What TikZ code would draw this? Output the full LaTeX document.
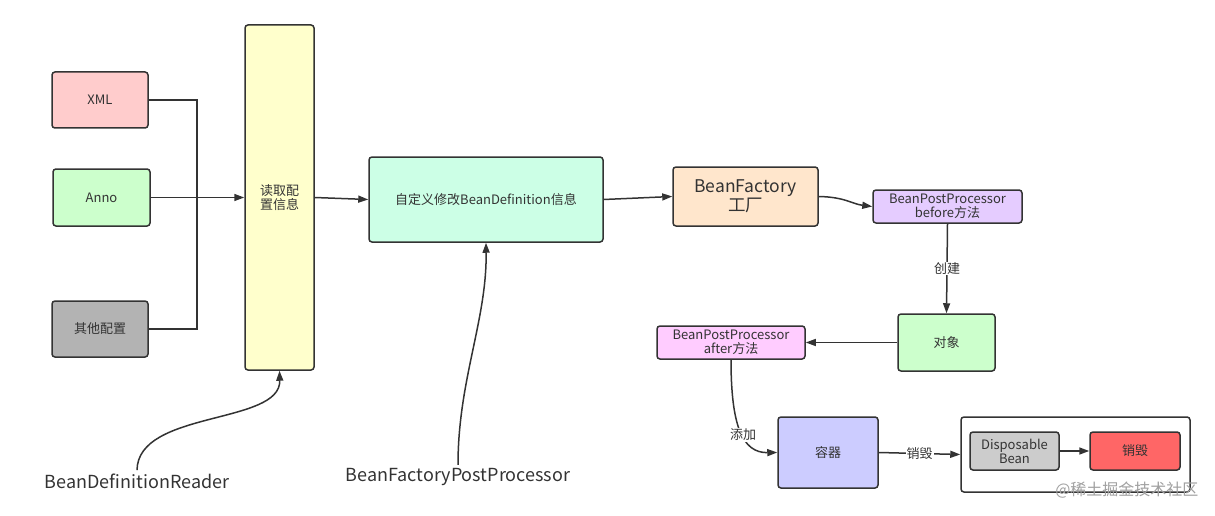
\documentclass[tikz,border=0pt]{standalone}
\usepackage{fontspec}
\setmainfont{Noto Sans CJK SC}
\usetikzlibrary{arrows.meta}
\definecolor{ink}{HTML}{333333}
\tikzset{>={Triangle[length=10pt,width=7pt]}}
\tikzset{
    box/.style = {draw=ink, line width=1.5pt, rounded corners=3pt, text=ink,
                  align=center, inner sep=0pt, font=\fontsize{13}{14}\selectfont},
    link/.style = {draw=ink, line width=1.5pt},
    tag/.style = {fill=white, inner sep=1pt, text=ink, font=\fontsize{13}{14}\selectfont},
    free/.style = {text=ink, font=\fontsize{18}{20}\selectfont}
}

\begin{document}
\begin{tikzpicture}[x=1pt, y=-1pt]
    \useasboundingbox (0,0) rectangle (1215,516);
    \node[box, fill={rgb,255:red,255;green,204;blue,204}, minimum width=96, minimum height=56] (xml) at (100,100) {XML};
    \node[box, fill={rgb,255:red,204;green,255;blue,204}, minimum width=97, minimum height=57] (anno) at (101.5,197.5) {Anno};
    \node[box, fill={rgb,255:red,179;green,179;blue,179}, minimum width=96, minimum height=56] (other) at (100,329) {其他配置};
    \node[box, fill={rgb,255:red,255;green,255;blue,204}, minimum width=69, minimum height=345] (read) at (279.5,197.5) {读取配\\置信息};
    \node[box, fill={rgb,255:red,204;green,255;blue,230}, minimum width=234, minimum height=85] (custom) at (486,199.5) {自定义修改BeanDefinition信息};
    \node[box, fill={rgb,255:red,255;green,230;blue,204}, minimum width=145, minimum height=59,
          font=\fontsize{17.5}{19}\selectfont] (factory) at (745.5,196.5) {BeanFactory\\工厂};
    \node[box, fill={rgb,255:red,229;green,204;blue,255}, minimum width=149, minimum height=33] (before) at (947.5,206.5) {BeanPostProcessor\\before方法};
    \node[box, fill={rgb,255:red,204;green,255;blue,204}, minimum width=97, minimum height=57] (obj) at (946.5,342.5) {对象};
    \node[box, fill={rgb,255:red,255;green,204;blue,255}, minimum width=148, minimum height=33] (after) at (731,342.5) {BeanPostProcessor\\after方法};
    \node[box, fill={rgb,255:red,204;green,204;blue,255}, minimum width=100, minimum height=71] (cont) at (828,452.5) {容器};
    \node[box, fill=white, minimum width=229, minimum height=75] (outer) at (1075.5,454.5) {};
    \node[box, fill={rgb,255:red,204;green,204;blue,204}, minimum width=89, minimum height=38] (disp) at (1014.5,451) {Disposable\\Bean};
    \node[box, fill={rgb,255:red,255;green,102;blue,102}, minimum width=90, minimum height=38] (destroy) at (1135,451) {销毁};
    \node[free] (reader) at (137,481) {BeanDefinitionReader};
    \node[free] (fpp) at (458,477) {BeanFactoryPostProcessor};
    \coordinate (joint) at (197,197);

    \draw[link] (xml.east) -| (joint);
    \draw[link] (other.east) -| (joint);
    \draw[link, ->] (anno.east) -- (read.west);
    \draw[link, ->] (read.east) -- (custom.west);
    \draw[link, ->] (custom.east) -- (factory.west);
    \draw[link, ->] (factory.east) .. controls (845,197) and (852,204) .. (before.west);
    \draw[link, ->] (before.south) -- node[tag] {创建} (obj.north);
    \draw[link, ->] (obj.west) -- (after.east);
    \draw[link, ->] (after.south) .. controls (731,425) and (742,453) .. node[tag, pos=0.55] {添加} (cont.west);
    \draw[link, ->] (cont.east) -- node[tag] {销毁} (outer.west);
    \draw[link, ->] (disp.east) -- (destroy.west);
    \draw[link, ->] (reader.north) .. controls (138,410) and (281,425) .. (read.south);
    \draw[link, ->] (fpp.north) .. controls (458,380) and (487,320) .. (custom.south);

    \node[text={rgb,255:red,160;green,160;blue,160}, font=\fontsize{16}{18}\selectfont, anchor=east] (mark) at (1202,490) {@稀土掘金技术社区};
\end{tikzpicture}
\end{document}
